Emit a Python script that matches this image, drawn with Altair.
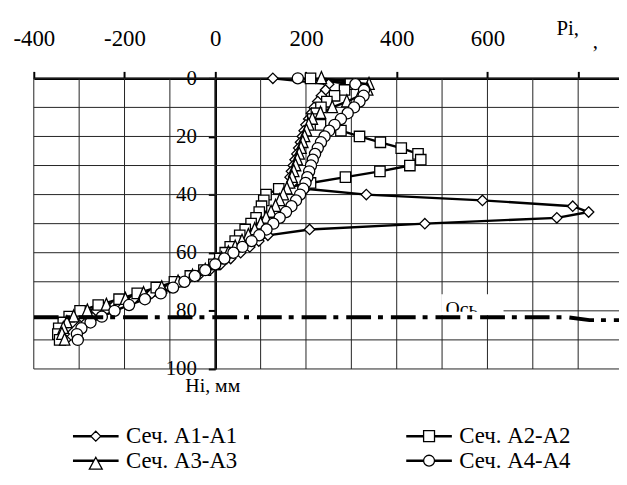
import altair as alt
import pandas as pd

SERIES = ["Сеч. A1-A1", "Сеч. A2-A2", "Сеч. A3-A3", "Сеч. A4-A4"]
H_MM = [0, 2, 4, 6, 8, 10, 12, 14, 16, 18, 20, 22, 24, 26, 28, 30, 32, 34, 36, 38,
        40, 42, 44, 46, 48, 50, 52, 54, 56, 58, 60, 62, 64, 66, 68, 70, 72, 74, 76,
        78, 80, 82, 84, 86, 88, 90]
P_A1 = [127, 250, 243, 234, 226, 218, 212, 206, 200, 196, 192, 188, 184, 180, 176, 172,
        168, 165, 170, 199, 333, 589, 788, 823, 753, 462, 208, 116, 96, 76, 56, 34, 12,
        -12, -38, -66, -100, -140, -180, -222, -262, -295, -315, -328, -333, -330]
P_A2 = [210, 298, 285, 263, 246, 233, 223, 215, 232, 277, 318, 364, 410, 447, 453, 429,
        363, 287, 210, 140, 112, 107, 102, 97, 90, 79, 66, 54, 44, 33, 22, 10, -3, -25,
        -55, -90, -130, -172, -212, -258, -298, -322, -335, -345, -347, -343]
P_A3 = [234, 339, 336, 318, 290, 258, 232, 214, 206, 201, 197, 193, 189, 185, 181, 177,
        173, 169, 164, 158, 150, 142, 133, 123, 112, 100, 87, 73, 59, 44, 29, 14, -2, -22,
        -50, -82, -118, -158, -198, -240, -282, -312, -327, -335, -338, -332]
P_A4 = [182, 309, 328, 327, 318, 306, 292, 277, 263, 251, 241, 233, 226, 220, 215, 211,
        207, 203, 199, 194, 187, 178, 168, 156, 142, 128, 113, 97, 80, 60, 40, 20, 0, -22,
        -45, -68, -93, -120, -155, -190, -222, -250, -275, -295, -305, -303]

X_TICKS = [-400, -200, 0, 200, 400, 600, 800]
X_GRID = [-400, -300, -200, -100, 0, 100, 200, 300, 400, 500, 600, 700, 800]
Y_TICKS = [0, 20, 40, 60, 80, 100]
Y_GRID = [0, 10, 20, 30, 40, 50, 60, 70, 80, 90, 100]
Y_GRID_START = [-400, -400, -400, -400, -400, -400, -400, -400, 635, -400, -400]
AXIS_LINE_P = [-400, 775, 825, 890]
AXIS_LINE_H = [82.2, 82.2, 83.2, 83.2]

X_MIN, X_MAX = -400, 890
W, HGT = 590, 293
FONT = "Liberation Serif, Times New Roman, serif"

rows = []
for s, vals in zip(SERIES, [P_A1, P_A2, P_A3, P_A4]):
    for i, (h, p) in enumerate(zip(H_MM, vals)):
        rows.append({"series": s, "H": h, "P": p, "idx": i})
df = pd.DataFrame(rows)

xs = alt.Scale(domain=[X_MIN, X_MAX], nice=False, zero=False)
ys = alt.Scale(domain=[0, 100], reverse=True, nice=False, zero=False)

xaxis = alt.Axis(orient="top", values=X_TICKS,
                 labelExpr="datum.value == 800 ? '' : '' + datum.value",
                 grid=False, tickSize=7, tickWidth=2, tickColor="black",
                 domainColor="black", domainWidth=2.5, labelFont=FONT, labelFontSize=23,
                 labelColor="black", labelPadding=21, title=None, labelFlush=False,
                 labelOverlap=False)
yaxis = alt.Axis(orient="left", offset=-(400 / (X_MAX - X_MIN)) * W, values=Y_TICKS,
                 grid=False, tickSize=7, tickWidth=2, tickColor="black",
                 domainColor="black", domainWidth=2.5, labelFont=FONT, labelFontSize=21,
                 labelColor="black", labelPadding=12, labelFlush=False, labelOverlap=False,
                 title="Hi, мм", titleFont=FONT, titleFontSize=20, titleFontWeight="normal",
                 titleColor="black", titleAngle=0, titleAlign="center",
                 titleBaseline="alphabetic", titleX=-3, titleY=316)


def X(f):
    return alt.X(f, scale=xs, axis=xaxis)


def Y(f):
    return alt.Y(f, scale=ys, axis=yaxis)


grid_x = alt.Chart(pd.DataFrame({"P": X_GRID})).mark_rule(color="#222", strokeWidth=1).encode(
    x=X("P:Q"))
grid_y = alt.Chart(pd.DataFrame({"H": Y_GRID, "p1": Y_GRID_START})).mark_rule(
    color="#222", strokeWidth=1).encode(
    y=Y("H:Q"), x=X("p1:Q"), x2=alt.datum(X_MAX))

box = alt.Chart(pd.DataFrame({"a": [0]})).mark_rect(color="white").encode(
    x=alt.datum(498, scale=xs, axis=xaxis), x2=alt.datum(635),
    y=alt.datum(74.3, scale=ys, axis=yaxis), y2=alt.datum(81.4))
label = alt.Chart(pd.DataFrame({"t": ["Ось"]})).mark_text(
    font=FONT, fontSize=20, color="black", align="center", baseline="alphabetic").encode(
    x=alt.datum(543, scale=xs, axis=xaxis), y=alt.datum(81.4, scale=ys, axis=yaxis),
    text="t:N")
cover = alt.Chart(pd.DataFrame({"a": [0]})).mark_rect(color="white").encode(
    x=alt.datum(498, scale=xs, axis=xaxis), x2=alt.datum(635),
    y=alt.datum(80.3, scale=ys, axis=yaxis), y2=alt.datum(81.5))

axis_line = alt.Chart(pd.DataFrame({"P": AXIS_LINE_P, "H": AXIS_LINE_H,
                                    "i": list(range(len(AXIS_LINE_P)))})).mark_line(
    color="black", strokeWidth=4, strokeDash=[25, 7, 5, 8], clip=True).encode(
    x=X("P:Q"), y=Y("H:Q"), order="i:Q")

lines = alt.Chart(df).mark_line(color="black", strokeWidth=2.4).encode(
    x=X("P:Q"), y=Y("H:Q"), detail="series:N", order="idx:Q")

MARKERS = ["M0,-1L1,0L0,1L-1,0Z",
           "M-1,-1L1,-1L1,1L-1,1Z",
           "M0,-1.3L1,1L-1,1Z",
           "M1.07,0A1.07,1.07,0,1,1,-1.07,0A1.07,1.07,0,1,1,1.07,0Z"]
points = alt.Chart(df).mark_point(filled=True, fill="white", stroke="black",
                                  strokeWidth=1.3, size=110, opacity=1).encode(
    x=X("P:Q"), y=Y("H:Q"),
    shape=alt.Shape("series:N", scale=alt.Scale(domain=SERIES, range=MARKERS), legend=None))

SEG = "M-2.3,-0.06L-{a},-0.06M-2.3,0.06L-{a},0.06M{a},-0.06L2.3,-0.06M{a},0.06L2.3,0.06"
LEG_PATH = {SERIES[0]: SEG.format(a=0.5) + "M0,-0.5L0.5,0L0,0.5L-0.5,0Z",
            SERIES[1]: SEG.format(a=0.55) + "M-0.55,-0.55L0.55,-0.55L0.55,0.55L-0.55,0.55Z",
            SERIES[2]: SEG.format(a=0.2) + "M0,-0.35L0.65,0.85L-0.65,0.85Z",
            SERIES[3]: SEG.format(a=0.55) + "M0.55,0A0.55,0.55,0,1,1,-0.55,0A0.55,0.55,0,1,1,0.55,0Z"}
LEG_ORDER = [SERIES[0], SERIES[2], SERIES[1], SERIES[3]]
legend_layer = alt.Chart(pd.DataFrame({"name": SERIES})).mark_point(
    filled=True, fill="white", stroke="black", strokeWidth=1.3, opacity=1, size=400,
    clip=True).encode(
    x=alt.value(-300), y=alt.value(-300),
    shape=alt.Shape("name:N", scale=alt.Scale(domain=LEG_ORDER,
                                              range=[LEG_PATH[s] for s in LEG_ORDER]),
                    legend=alt.Legend(orient="none", legendX=51, legendY=349, columns=2,
                                      columnPadding=166, rowPadding=1, symbolSize=400,
                                      symbolStrokeWidth=1.3, labelFont=FONT,
                                      labelFontSize=23, labelColor="black", labelOffset=19,
                                      title=None, padding=0, symbolOffset=0, labelLimit=0)))

pi_t = alt.Chart(pd.DataFrame({"t": ["Pi,"]})).mark_text(
    font=FONT, fontSize=21, color="black", align="center", baseline="alphabetic").encode(
    x=alt.datum(777, scale=xs, axis=xaxis), y=alt.datum(-15, scale=ys, axis=yaxis),
    text="t:N")
comma_t = alt.Chart(pd.DataFrame({"t": [","]})).mark_text(
    font=FONT, fontSize=21, color="black", align="center", baseline="alphabetic").encode(
    x=alt.datum(838, scale=xs, axis=xaxis), y=alt.datum(-10.4, scale=ys, axis=yaxis),
    text="t:N")

chart = alt.layer(grid_x, grid_y, box, label, cover, lines, points, axis_line,
                  legend_layer, pi_t, comma_t).resolve_scale(shape="independent").properties(
    width=W, height=HGT, autosize="none",
    padding={"left": 26, "top": 69, "right": 0, "bottom": 107},
    background="white").configure_view(stroke=None)

chart.save("out.html", embed_options={"renderer": "svg", "actions": False})
